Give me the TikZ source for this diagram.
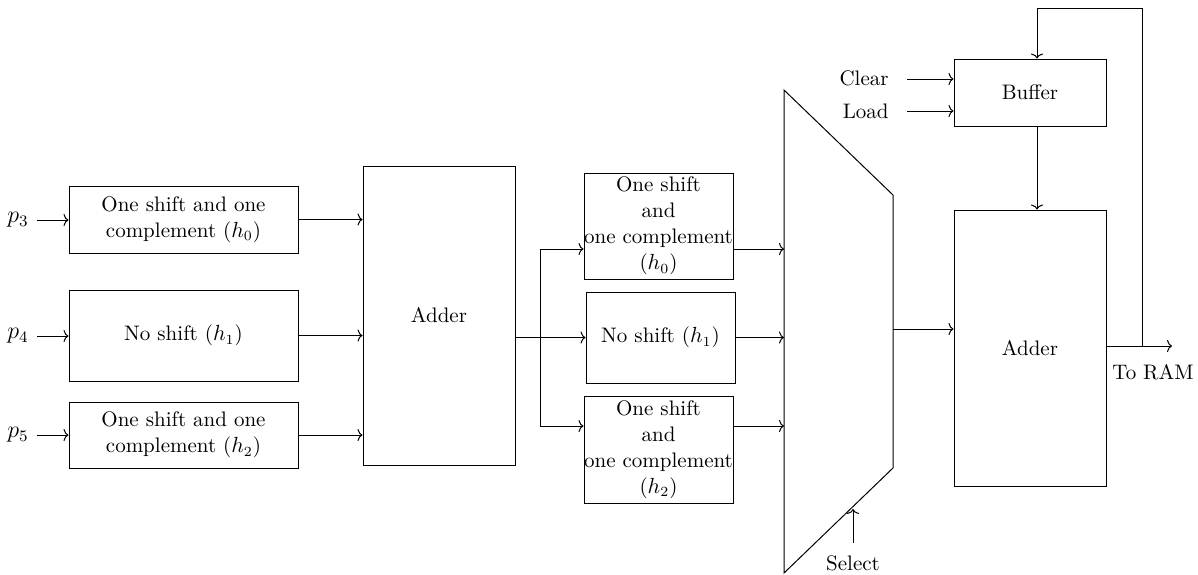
\documentclass[tikz,border=0pt]{standalone}
\usetikzlibrary{arrows.meta}
\begin{document}
\begin{tikzpicture}[x=0.5pt,y=-0.5pt,
  font=\fontsize{10.5}{13}\selectfont,
  blk/.style={draw, line width=0.5pt, inner sep=0pt, align=center},
  conn/.style={-{To[length=2.5pt,width=6pt]}, line width=0.5pt},
  wire/.style={line width=0.5pt},
  lbl/.style={inner sep=2pt},
  plbl/.style={inner sep=2pt, font=\fontsize{12}{14}\selectfont}]
\useasboundingbox (0,0) rectangle (1198,574);

% left blocks
\node[blk, minimum width=114.5pt, minimum height=33.5pt] (b1) at (183.5,219.5) {One shift and one\\complement ($h_0$)};
\node[blk, minimum width=114.5pt, minimum height=45.5pt] (b2) at (183.5,335.5) {No shift ($h_1$)};
\node[blk, minimum width=114.5pt, minimum height=33pt] (b3) at (183.5,435) {One shift and one\\complement ($h_2$)};

\node[plbl] (p3) at (18,220) {$p_3$};
\node[plbl] (p4) at (18,336) {$p_4$};
\node[plbl] (p5) at (18,435) {$p_5$};

\draw[conn, shorten <=2pt] (p3.east) -- (p3.east -| b1.west);
\draw[conn, shorten <=2pt] (p4.east) -- (p4.east -| b2.west);
\draw[conn, shorten <=2pt] (p5.east) -- (p5.east -| b3.west);

% first adder
\node[blk, minimum width=76pt, minimum height=149.5pt] (add1) at (439,315.5) {Adder};

\draw[conn] (b1.east) -- (b1.east -| add1.west);
\draw[conn] (b2.east) -- (b2.east -| add1.west);
\draw[conn] (b3.east) -- (b3.east -| add1.west);

% middle blocks
\node[blk, minimum width=74.5pt, minimum height=53pt] (mA) at (658.5,226) {One shift\\and\\one complement\\($h_0$)};
\node[blk, minimum width=74.5pt, minimum height=45.5pt] (mB) at (660.5,337.5) {No shift ($h_1$)};
\node[blk, minimum width=74.5pt, minimum height=53.5pt] (mC) at (658.5,449.5) {One shift\\and\\one complement\\($h_2$)};

\coordinate (inA) at ([yshift=-11.5pt]mA.west);
\coordinate (outA) at ([yshift=-11.5pt]mA.east);
\coordinate (inC) at ([yshift=11.75pt]mC.west);
\coordinate (outC) at ([yshift=11.75pt]mC.east);
\coordinate (br) at (540,337.5);

\draw[conn] (add1.east |- mB.west) -- (mB.west);
\draw[conn] (br) |- (inA);
\draw[conn] (br) |- (inC);

% multiplexer
\coordinate (m1) at (784,90);
\coordinate (m2) at (893,195);
\coordinate (m3) at (893,468);
\coordinate (m4) at (784,573);
\draw[wire, line join=miter] (m1) -- (m2) -- (m3) -- (m4) -- cycle;

\draw[conn] (outA) -- (outA -| m1);
\draw[conn] (mB.east) -- (mB.east -| m1);
\draw[conn] (outC) -- (outC -| m1);

\node[lbl] (sel) at (853,563) {Select};
\coordinate (selt) at (853,509);
\draw[conn] (853,543) -- (selt);

% buffer and second adder
\node[blk, minimum width=76pt, minimum height=33.5pt] (buf) at (1030,92.5) {Buffer};
\node[blk, minimum width=76pt, minimum height=138pt] (add2) at (1030,348) {Adder};

\coordinate (mo) at (893,329);
\draw[conn] (mo) -- (mo -| add2.west);

\node[lbl, anchor=east] (clr) at (893,78) {Clear};
\node[lbl, anchor=east] (ld) at (893,111) {Load};
\draw[conn] (907,79) -- (907,79 -| buf.west);
\draw[conn] (907,111) -- (907,111 -| buf.west);

\coordinate (top) at (1037,8);
\coordinate (fb) at (1142,346);
\coordinate (ram) at (1172,346);
\draw[conn] (add2.east |- fb) -- (ram);
\draw[conn] (fb) |- (top) -- (top |- buf.north);
\draw[conn] (top |- buf.south) -- (top |- add2.north);

\node[lbl] (toram) at (1153,372) {To RAM};
\end{tikzpicture}
\end{document}
